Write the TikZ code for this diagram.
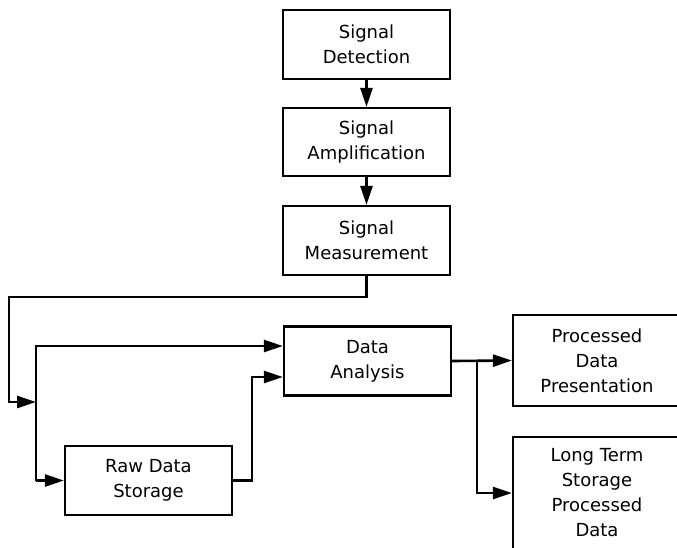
\documentclass[tikz,border=0pt]{standalone}
\usepackage{fontspec}
\setmainfont{DejaVu Sans}
\usetikzlibrary{arrows.meta}
\begin{document}
\begin{tikzpicture}[x=1pt,y=-1pt,
  box/.style={draw, line width=2.2pt, align=center, inner sep=0pt,
    minimum width=167pt, minimum height=69pt,
    font=\fontsize{18}{25}\selectfont, text=black},
  conn/.style={line width=2.6pt, line join=miter},
  arr/.style={conn, -{Triangle[length=19pt,width=12pt]}}]
\useasboundingbox (0,0) rectangle (677,547);
\clip (0,0) rectangle (677,547);
\node[box] (det) at (366.5,44.5) {Signal\\Detection};
\node[box, minimum height=68pt] (amp) at (366.5,142) {Signal\\Amplification};
\node[box] (meas) at (366.5,240.5) {Signal\\Measurement};
\node[box] (da) at (367.5,361) {Data\\Analysis};
\node[box] (raw) at (148.5,480.5) {Raw Data\\Storage};
\node[box, minimum width=176pt, minimum height=91pt] (pdp) at (601,360.5) {\hspace*{-8pt}Processed\\\hspace*{-8pt}Data\\\hspace*{-8pt}Presentation};
\node[box, minimum width=176pt, minimum height=112pt] (lts) at (601,493) {\hspace*{-8pt}Long Term\\\hspace*{-8pt}Storage\\\hspace*{-8pt}Processed\\\hspace*{-8pt}Data};
\coordinate (m1) at (366.5,297);
\coordinate (m2) at (9,297);
\coordinate (m3) at (9,402);
\coordinate (j1) at (36,402);
\coordinate (busT) at (36,346);
\coordinate (busB) at (36,480.5);
\coordinate (c2) at (252,377);
\coordinate (br) at (477,361);
\draw[arr] (det) -- (amp);
\draw[arr] (amp) -- (meas);
\draw[arr] (meas.south) -- (m1) -- (m2) -- (m3) -- (j1);
\draw[arr] (busB) -- (busT) -- (busT -| da.west);
\draw[arr] (busB) -- (raw.west);
\draw[arr] (raw.east) -| (c2) -- (c2 -| da.west);
\draw[arr] (da.east) -- (pdp.west);
\draw[arr] (br) |- (lts.west);
\end{tikzpicture}
\end{document}
